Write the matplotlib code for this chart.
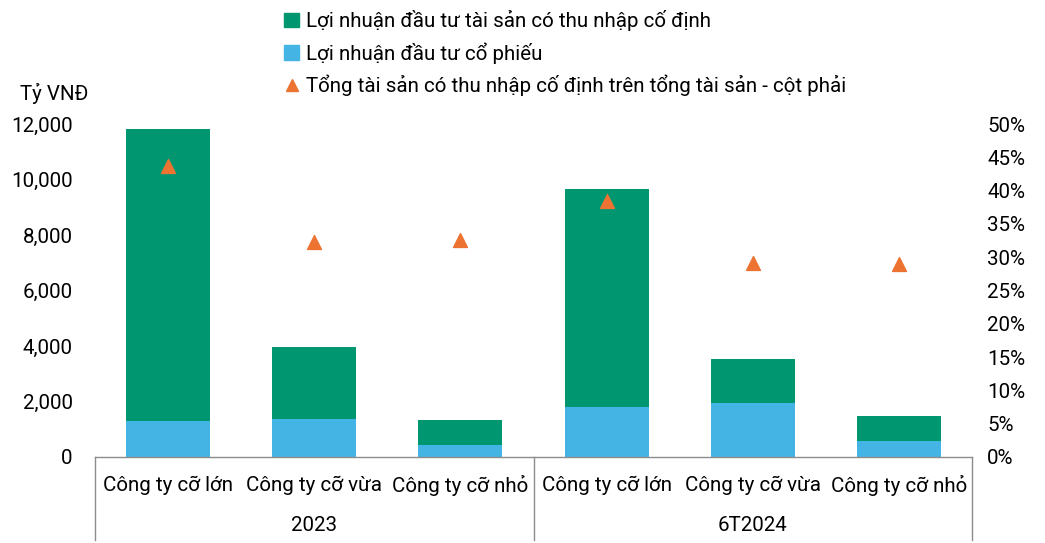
import matplotlib
matplotlib.use("Agg")
import matplotlib.pyplot as plt
from matplotlib.lines import Line2D
from matplotlib.patches import Patch
from matplotlib.ticker import FuncFormatter, MultipleLocator

plt.rcParams['font.family'] = ['Roboto', 'DejaVu Sans']

categories = ["Công ty cỡ lớn", "Công ty cỡ vừa", "Công ty cỡ nhỏ",
              "Công ty cỡ lớn", "Công ty cỡ vừa", "Công ty cỡ nhỏ"]
groups = ["2023", "6T2024"]
stock_profit = [1300, 1370, 430, 1800, 1950, 580]
total_profit = [11820, 3960, 1330, 9660, 3530, 1480]
fixed_profit = [t - s for t, s in zip(total_profit, stock_profit)]
fixed_share = [43.7, 32.3, 32.6, 38.4, 29.1, 29.0]

legend_labels = ["Lợi nhuận đầu tư tài sản có thu nhập cố định",
                 "Lợi nhuận đầu tư cổ phiếu",
                 "Tổng tài sản có thu nhập cố định trên tổng tài sản - cột phải"]

green = '#00966F'
blue = '#44B4E5'
orange = '#EC7332'
fs = 14.8

W, H = 1045, 543
fig = plt.figure(figsize=(W / 100, H / 100), dpi=100)
ax = fig.add_axes([95 / W, (H - 457) / H, 877 / W, 333 / H])

x = list(range(len(categories)))
ax.bar(x, stock_profit, width=0.575, color=blue)
ax.bar(x, fixed_profit, bottom=stock_profit, width=0.575, color=green)
ax.set_xlim(-0.5, len(categories) - 0.5)
ax.set_ylim(0, 12000)
ax.yaxis.set_major_locator(MultipleLocator(2000))
ax.yaxis.set_major_formatter(FuncFormatter(lambda v, p: f"{int(v):,}"))
ax.tick_params(axis='y', length=0, labelsize=fs, pad=16)
ax.set_xticks([])
for s in ax.spines.values():
    s.set_visible(False)

ax2 = ax.twinx()
ax2.scatter(x, fixed_share, marker='^', s=100, color=orange, zorder=3)
ax2.set_ylim(0, 50)
ax2.yaxis.set_major_locator(MultipleLocator(5))
ax2.yaxis.set_major_formatter(FuncFormatter(lambda v, p: f"{int(v)}%"))
ax2.tick_params(axis='y', length=0, labelsize=fs, pad=11)
for s in ax2.spines.values():
    s.set_visible(False)

# category box under the axis
tr = ax.get_xaxis_transform()
ax.plot([-0.5, len(categories) - 0.5], [0, 0], color='#8c8c8c', lw=1, transform=tr, clip_on=False)
for xv in [-0.5, 2.5, 5.5]:
    ax.plot([xv, xv], [0, -0.25], color='#8c8c8c', lw=1, transform=tr, clip_on=False)
for i, c in enumerate(categories):
    ax.text(i, -0.085, c, ha='center', va='center', fontsize=fs, transform=tr)
for g, gx in zip(groups, [1, 4]):
    ax.text(gx, -0.205, g, ha='center', va='center', fontsize=fs, transform=tr)

fig.text(20 / W, 1 - 93 / H, "Tỷ VNĐ", fontsize=fs, va='center', ha='left')

handles = [Patch(color=green), Patch(color=blue),
           Line2D([], [], marker='^', color=orange, linestyle='none', markersize=8)]
fig.legend(handles, legend_labels, loc='upper left', bbox_to_anchor=(270 / W, 1 + 4 / H),
           frameon=False, fontsize=fs, handlelength=0.7, handleheight=0.7,
           handletextpad=0.35, labelspacing=0.52, borderaxespad=0.3)

fig.savefig("out.png", dpi=100)
